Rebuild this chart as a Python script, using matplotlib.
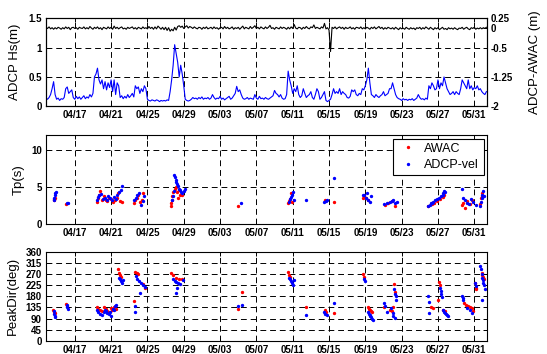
import matplotlib
matplotlib.use('Agg')
import matplotlib.pyplot as plt
import numpy as np

plt.rcParams['font.family'] = ['Liberation Sans', 'DejaVu Sans']

# ---- x axis (days since 04/15 00:00) ----
tick_days = [2, 6, 10, 14, 18, 22, 26, 30, 34, 38, 42, 46]
tick_labels = ['04/17', '04/21', '04/25', '04/29', '05/03', '05/07',
               '05/11', '05/15', '05/19', '05/23', '05/27', '05/31']
x_range = (-1.17, 47.37)

# ---- top panel: ADCP Hs (m), 4-hourly starting 04/13 20:00 ----
hs_start = -1.1667
hs_step = 1.0 / 6.0
hs = [
    0.14, 0.12, 0.15, 0.20, 0.30, 0.42,
    0.20, 0.12, 0.14, 0.10, 0.13, 0.12,
    0.15, 0.30, 0.33, 0.22, 0.25, 0.28,
    0.15, 0.12, 0.17, 0.13, 0.16, 0.12,
    0.15, 0.18, 0.13, 0.16, 0.14, 0.20,
    0.16, 0.22, 0.50, 0.55, 0.65, 0.45,
    0.38, 0.45, 0.30, 0.42, 0.28, 0.40,
    0.32, 0.45, 0.25, 0.45, 0.20, 0.40,
    0.35, 0.15, 0.18, 0.13, 0.17, 0.14,
    0.20, 0.15, 0.18, 0.22, 0.16, 0.35,
    0.30, 0.33, 0.22, 0.30, 0.25, 0.35,
    0.30, 0.12, 0.10, 0.09, 0.11, 0.10,
    0.09, 0.11, 0.10, 0.08, 0.10, 0.09,
    0.10, 0.09, 0.11, 0.10, 0.25, 0.45,
    0.70, 1.05, 0.90, 0.75, 0.50, 0.70,
    0.55, 0.35, 0.12, 0.10, 0.09, 0.10,
    0.12, 0.15, 0.13, 0.14, 0.12, 0.15,
    0.13, 0.16, 0.12, 0.14, 0.13, 0.15,
    0.12, 0.14, 0.20, 0.15, 0.12, 0.14,
    0.13, 0.17, 0.12, 0.14, 0.11, 0.13,
    0.15, 0.17, 0.12, 0.14, 0.18, 0.22,
    0.34, 0.25, 0.28, 0.20, 0.14, 0.12,
    0.13, 0.15, 0.12, 0.14, 0.13, 0.12,
    0.20, 0.14, 0.12, 0.17, 0.13, 0.14,
    0.12, 0.15, 0.13, 0.12, 0.14, 0.16,
    0.18, 0.27, 0.22, 0.20, 0.16, 0.20,
    0.14, 0.12, 0.13, 0.20, 0.60, 0.45,
    0.35, 0.22, 0.30, 0.25, 0.35, 0.20,
    0.15, 0.18, 0.30, 0.22, 0.15, 0.18,
    0.20, 0.25, 0.15, 0.12, 0.20, 0.30,
    0.25, 0.12, 0.15, 0.20, 0.25, 0.10,
    0.08, 0.10, 0.12, 0.20, 0.30, 0.22,
    0.25, 0.22, 0.30, 0.20, 0.25, 0.22,
    0.20, 0.15, 0.14, 0.17, 0.28, 0.25,
    0.28, 0.20, 0.18, 0.22, 0.20, 0.30,
    0.28, 0.35, 0.45, 0.65, 0.40, 0.20,
    0.18, 0.15, 0.20, 0.17, 0.15, 0.18,
    0.20, 0.25, 0.18, 0.20, 0.22, 0.30,
    0.30, 0.40, 0.30, 0.20, 0.15, 0.13,
    0.12, 0.10, 0.13, 0.11, 0.12, 0.10,
    0.12, 0.11, 0.13, 0.10, 0.12, 0.14,
    0.20, 0.15, 0.12, 0.13, 0.11, 0.14,
    0.12, 0.35, 0.30, 0.40, 0.35, 0.28,
    0.30, 0.45, 0.30, 0.40, 0.35, 0.50,
    0.40, 0.30, 0.25, 0.20, 0.22, 0.25,
    0.20, 0.25, 0.22, 0.20, 0.30, 0.45,
    0.40, 0.35, 0.30, 0.45, 0.30, 0.35,
    0.28, 0.32, 0.30, 0.35, 0.28, 0.30,
    0.25, 0.22, 0.20, 0.25,
]
# ADCP-AWAC difference (m), same time base
hs_diff = [
    0.02, -0.01, 0.03, -0.02, 0.01, -0.03,
    0.01, -0.02, 0.02, 0.00, -0.03, 0.01,
    -0.02, 0.03, -0.01, 0.02, -0.04, 0.01,
    0.02, -0.01, 0.01, -0.03, 0.02, 0.00,
    -0.01, 0.03, -0.02, 0.01, -0.02, 0.04,
    0.00, -0.03, 0.02, -0.01, 0.03, -0.02,
    0.01, -0.04, 0.02, 0.00, -0.02, 0.03,
    -0.01, 0.02, -0.03, 0.05, -0.01, 0.02,
    -0.02, 0.01, 0.03, -0.02, 0.00, -0.03,
    0.02, -0.01, 0.01, 0.03, -0.02, 0.01,
    -0.03, 0.02, 0.00, -0.02, 0.03, -0.01,
    0.01, -0.02, 0.04, -0.01, 0.02, -0.03,
    0.03, -0.02, 0.05, 0.01, -0.03, 0.02,
    -0.04, 0.02, -0.06, 0.01, -0.08, -0.03,
    -0.07, 0.02, -0.05, 0.04, 0.06, 0.02,
    0.05, -0.01, 0.03, 0.06, 0.00, 0.04,
    0.02, -0.01, 0.03, 0.00, -0.02, 0.02,
    0.01, -0.03, 0.02, -0.01, 0.03, -0.02,
    0.00, 0.02, -0.02, 0.03, -0.01, 0.01,
    -0.03, 0.01, 0.02, -0.02, 0.04, -0.01,
    0.02, -0.02, 0.00, 0.03, -0.03, 0.01,
    -0.01, 0.02, -0.03, 0.01, 0.05, -0.02,
    0.02, 0.00, -0.02, 0.04, -0.01, 0.02,
    0.06, -0.01, 0.02, -0.02, 0.03, 0.00,
    -0.02, 0.03, -0.01, 0.02, 0.07, -0.01,
    0.01, -0.03, 0.02, 0.00, -0.02, 0.03,
    -0.01, 0.02, 0.00, -0.03, 0.02, -0.02,
    0.03, -0.01, 0.09, 0.00, -0.02, 0.02,
    0.01, -0.03, 0.02, -0.01, 0.04, 0.00,
    -0.02, 0.03, 0.01, 0.08, -0.01, 0.02,
    0.00, -0.02, 0.03, 0.00, 0.12, -0.02,
    0.01, -0.05, -0.60, 0.02, -0.01, 0.03,
    -0.02, 0.01, 0.03, -0.01, 0.02, -0.03,
    0.02, -0.01, 0.00, 0.03, -0.02, 0.01,
    -0.03, 0.02, 0.01, -0.01, 0.03, -0.02,
    0.01, -0.02, 0.02, 0.00, -0.03, 0.02,
    -0.01, 0.03, -0.02, 0.01, 0.04, -0.01,
    0.02, -0.03, 0.01, -0.02, 0.02, 0.00,
    -0.02, 0.01, -0.03, 0.02, -0.01, -0.04,
    0.01, -0.02, 0.00, -0.03, 0.02, -0.01,
    -0.03, 0.01, -0.02, 0.00, -0.04, 0.01,
    -0.01, 0.02, -0.03, 0.01, -0.02, 0.03,
    0.00, -0.03, 0.02, -0.01, -0.04, 0.01,
    -0.02, 0.01, -0.04, -0.01, 0.02, -0.03,
    -0.01, -0.04, 0.01, -0.02, 0.00, -0.03,
    0.01, -0.02, -0.04, 0.00, -0.01, 0.02,
    -0.03, 0.00, 0.02, -0.02, -0.04, 0.01,
    -0.01, 0.02, -0.03, 0.00, -0.02, 0.01,
    -0.02, 0.01, -0.01, 0.02,
]

# ---- middle panel: Tp (s) ----
awac_tp_t = [-0.3, -0.25, -0.2, 1.05,
             4.5, 4.6, 4.7, 4.8, 5.0, 5.2, 5.4, 5.6, 5.8, 6.0, 6.2, 6.4, 6.6, 6.8, 7.0, 7.2,
             8.5, 8.6, 8.8, 9.0, 9.2, 9.5, 9.4,
             12.6, 12.65, 12.7, 12.75, 12.8, 13.0, 13.2, 13.4, 13.6, 13.8, 13.3, 13.5,
             19.95, 25.5, 25.6, 25.7, 25.8, 25.9, 29.6, 30.6,
             33.7, 33.8, 34.1, 34.3, 36.2, 36.5, 36.9, 37.3,
             40.9, 41.3, 41.6, 41.9, 42.2, 42.5, 42.7,
             44.7, 44.8, 45.0, 45.2, 45.5, 45.8, 46.6, 46.7, 46.8, 46.9]
awac_tp = [3.2, 3.4, 3.5, 2.7,
           3.0, 3.5, 4.0, 4.5, 3.2, 3.8, 3.3, 3.1, 3.6, 3.4, 3.0, 3.2, 3.5, 4.2, 3.1, 3.0,
           2.8, 3.2, 3.6, 4.0, 3.0, 4.2, 3.3,
           2.5, 2.9, 3.3, 3.8, 4.3, 4.8, 5.0, 3.6, 4.0, 3.9, 4.4, 4.6,
           2.5, 2.8, 3.1, 3.4, 4.2, 3.0, 3.3, 3.0,
           3.5, 3.8, 3.6, 3.3, 2.6, 2.9, 3.1, 2.5,
           2.5, 2.7, 2.9, 3.1, 3.4, 3.7, 4.0,
           2.6, 2.9, 2.2, 3.1, 2.7, 3.3, 2.7, 3.5, 4.2, 3.8]
adcp_tp_t = [-0.3, -0.25, -0.2, -0.15, -0.1, 1.1, 1.2,
             4.5, 4.6, 4.7, 4.9, 5.1, 5.3, 5.5, 5.7, 5.9, 6.1, 6.3, 6.5, 6.7, 6.9, 7.1, 7.2,
             8.5, 8.7, 8.9, 9.1, 9.3, 9.5, 9.6,
             12.9, 13.0, 13.1, 13.2, 13.3, 13.4, 13.5, 13.6, 13.7, 13.8, 12.7, 12.8, 12.9, 14.0, 14.1,
             20.3, 25.6, 25.7, 25.8, 25.9, 26.0, 26.1, 27.5, 29.5, 29.7, 29.8, 30.6,
             33.7, 33.9, 34.1, 34.3, 34.5, 34.2, 34.6,
             36.1, 36.4, 36.7, 36.9, 37.1, 37.3, 37.5,
             40.9, 41.1, 41.3, 41.5, 41.7, 41.9, 42.1, 42.3, 42.5, 42.6, 42.7, 42.8, 41.2,
             44.7, 44.8, 45.0, 45.2, 45.4, 45.6, 45.9, 46.2,
             46.6, 46.7, 46.8, 46.9, 47.0, 47.1]
adcp_tp = [3.3, 3.6, 3.9, 4.2, 4.4, 2.8, 2.9,
           3.3, 3.7, 3.9, 4.1, 3.4, 3.6, 3.2, 3.8, 3.5, 3.3, 3.7, 3.4, 3.9, 4.3, 4.6, 5.2,
           3.3, 3.6, 3.9, 4.2, 2.6, 3.1, 3.8,
           6.6, 6.3, 6.0, 5.7, 5.4, 5.1, 4.8, 4.6, 4.4, 4.2, 3.2, 3.8, 4.5, 4.5, 4.7,
           2.8, 3.0, 3.4, 3.7, 4.0, 4.3, 3.2, 3.2, 3.0, 3.1, 3.2, 6.2,
           4.0, 3.9, 3.6, 3.3, 3.0, 4.2, 3.8,
           2.7, 2.9, 3.0, 3.1, 3.2, 2.8, 3.0,
           2.4, 2.6, 2.8, 3.0, 3.2, 3.4, 3.6, 3.8, 4.0, 4.2, 4.5, 4.3, 2.9,
           4.8, 3.5, 3.2, 2.9, 2.7, 3.4, 3.0, 2.6,
           2.5, 3.0, 3.6, 4.0, 4.5, 3.8]

# ---- bottom panel: PeakDir (deg) ----
awac_dir_t = [-0.35, -0.3, -0.2, 1.05, 1.15,
              4.4, 4.6, 4.8, 5.0, 5.2, 5.4, 5.6, 5.8, 6.0, 6.1, 6.3, 6.5,
              6.8, 6.9, 7.0, 7.1,
              8.6, 8.8, 9.0, 9.5, 9.7, 8.5,
              12.6, 12.8, 13.2, 13.5, 13.8,
              20.4, 19.95, 25.5, 25.6, 25.7, 27.5, 29.6, 29.7, 30.6,
              33.7, 33.8, 34.3, 34.4, 34.5, 34.6, 34.7,
              36.1, 36.7, 36.9, 37.1, 37.2, 37.3,
              41.2, 41.4, 42.1, 42.2, 42.0, 42.6, 42.8,
              44.9, 45.1, 45.3, 45.5, 45.7, 45.9,
              46.1, 46.2, 46.15, 46.8, 46.9, 47.0, 47.1]
awac_dir = [125, 118, 112, 148, 140,
            135, 130, 125, 120, 138, 128, 122, 118, 132, 126, 135, 130,
            288, 275, 265, 258,
            278, 272, 268, 228, 215, 160,
            272, 265, 255, 250, 248,
            198, 128, 279, 265, 258, 136, 125, 118, 114,
            269, 256, 136, 130, 125, 120, 118,
            136, 125, 120, 135, 228, 198,
            136, 132, 239, 225, 165, 125, 120,
            152, 145, 140, 135, 132, 120,
            232, 215, 208, 275, 265, 258, 250]
adcp_dir_t = [-0.3, -0.25, -0.2, -0.15, 1.1, 1.15, 1.2,
              4.4, 4.6, 4.8, 5.0, 5.2, 5.4, 5.6, 5.8, 6.0, 6.2, 6.3, 6.4, 6.5, 5.3, 5.9,
              6.9, 7.0, 7.1, 7.2, 7.3,
              8.7, 8.9, 9.1, 9.3, 9.5, 9.7, 9.2, 8.6, 8.6,
              12.8, 13.0, 13.2, 13.4, 13.6, 13.9, 13.3, 13.1,
              20.0, 20.4,
              25.6, 25.7, 25.8, 25.9, 26.0, 26.1,
              27.5, 29.5, 29.6, 29.8, 30.6, 33.9, 34.0,
              34.3, 34.4, 34.5, 34.6, 34.7, 34.8, 34.5,
              36.1, 36.2, 36.4, 36.8, 37.0, 37.1, 37.3, 37.2, 37.3, 37.4, 37.4,
              40.9, 41.0, 41.0, 42.2, 42.3, 42.3, 42.4,
              42.6, 42.7, 42.8, 42.9, 43.0, 43.1,
              44.7, 44.8, 44.8, 45.2, 45.5, 45.8, 46.1, 46.2,
              46.6, 46.7, 46.8, 46.9, 47.0, 47.0, 47.1, 47.2, 46.8]
adcp_dir = [120, 110, 100, 95, 145, 135, 128,
            125, 118, 110, 105, 115, 120, 112, 108, 100, 130, 125, 140, 145, 125, 115,
            255, 248, 240, 232, 245,
            262, 250, 240, 235, 225, 218, 192, 140, 118,
            248, 242, 238, 232, 228, 245, 212, 192,
            141, 145,
            255, 248, 240, 232, 225, 245,
            105, 115, 110, 105, 154, 248, 240,
            118, 110, 100, 95, 90, 85, 105,
            152, 140, 118, 132, 112, 100, 92, 210, 190, 180, 165,
            182, 158, 112, 212, 200, 190, 178,
            125, 118, 112, 108, 105, 100,
            182, 175, 165, 132, 125, 112, 232, 220,
            300, 290, 270, 255, 245, 232, 225, 210, 165]

# ---------------- drawing ----------------
fig = plt.figure(figsize=(5.47, 3.54), dpi=100)
L, W = 0.0841, 0.8057
ax1 = fig.add_axes([L, 0.6997, W, 0.2486])
ax2 = ax1.twinx()
axm = fig.add_axes([L, 0.3664, W, 0.2523])
axb = fig.add_axes([L, 0.0367, W, 0.2528])

grid_ls = (0, (6, 4))
TICK_FS = 7
LAB_FS = 9.5
MS = 2.8


def style(ax, right=True):
    ax.set_xlim(*x_range)
    ax.set_xticks(tick_days)
    ax.set_xticklabels(tick_labels)
    ax.tick_params(direction='in', length=3, width=0.7, top=True, right=right,
                   labelsize=TICK_FS, pad=3)
    ax.grid(True, linestyle=grid_ls, color='k', linewidth=0.7)
    for s in ax.spines.values():
        s.set_linewidth(0.8)
    for lab in ax.get_xticklabels() + ax.get_yticklabels():
        lab.set_fontweight('bold')


hs_t = hs_start + np.arange(len(hs)) * hs_step
ax1.plot(hs_t, hs, color='#0000ff', lw=0.8)
ax1.set_ylim(0, 1.5)
ax1.set_yticks([0, 0.5, 1, 1.5])
ax1.set_yticklabels(['0', '0.5', '1', '1.5'])
style(ax1, right=False)
ax1.set_ylabel('ADCP Hs(m)', fontsize=LAB_FS)
ax1.yaxis.set_label_coords(-0.056, 0.5)

diff_t = hs_start + np.arange(len(hs_diff)) * hs_step
ax2.plot(diff_t, hs_diff, color='k', lw=0.8)
ax2.set_xlim(*x_range)
ax2.set_ylim(-2, 0.25)
ax2.set_yticks([-2, -1.25, -0.5, 0, 0.25])
ax2.set_yticklabels(['-2', '-1.25', '-0.5', '0', '0.25'])
ax2.tick_params(axis='y', direction='in', length=3, width=0.7, labelsize=TICK_FS, pad=3)
for lab in ax2.get_yticklabels():
    lab.set_fontweight('bold')
ax2.set_ylabel('ADCP-AWAC (m)', fontsize=LAB_FS)
ax2.yaxis.set_label_coords(1.097, 0.5)

axm.plot(awac_tp_t, awac_tp, '.', color='#ff0000', ms=MS, label='AWAC')
axm.plot(adcp_tp_t, adcp_tp, '.', color='#0000ff', ms=MS, label='ADCP-vel')
axm.set_ylim(0, 12)
axm.set_yticks([0, 5, 10])
style(axm)
axm.set_ylabel('Tp(s)', fontsize=LAB_FS)
axm.yaxis.set_label_coords(-0.048, 0.5)
leg = axm.legend(loc='upper left', bbox_to_anchor=(0.787, 0.552, 0.207, 0.403),
                 mode='expand', fontsize=9, frameon=True, fancybox=False,
                 edgecolor='k', framealpha=1, borderpad=0.3, labelspacing=0.35,
                 handlelength=1.8, handletextpad=0.4, borderaxespad=0, markerscale=1.0)
leg.get_frame().set_linewidth(0.8)

axb.plot(awac_dir_t, awac_dir, '.', color='#ff0000', ms=MS)
axb.plot(adcp_dir_t, adcp_dir, '.', color='#0000ff', ms=MS)
axb.set_ylim(0, 360)
axb.set_yticks(list(range(0, 361, 45)))
style(axb)
axb.set_ylabel('PeakDir(deg)', fontsize=LAB_FS)
axb.yaxis.set_label_coords(-0.061, 0.5)

fig.savefig('out.png', dpi=100)
